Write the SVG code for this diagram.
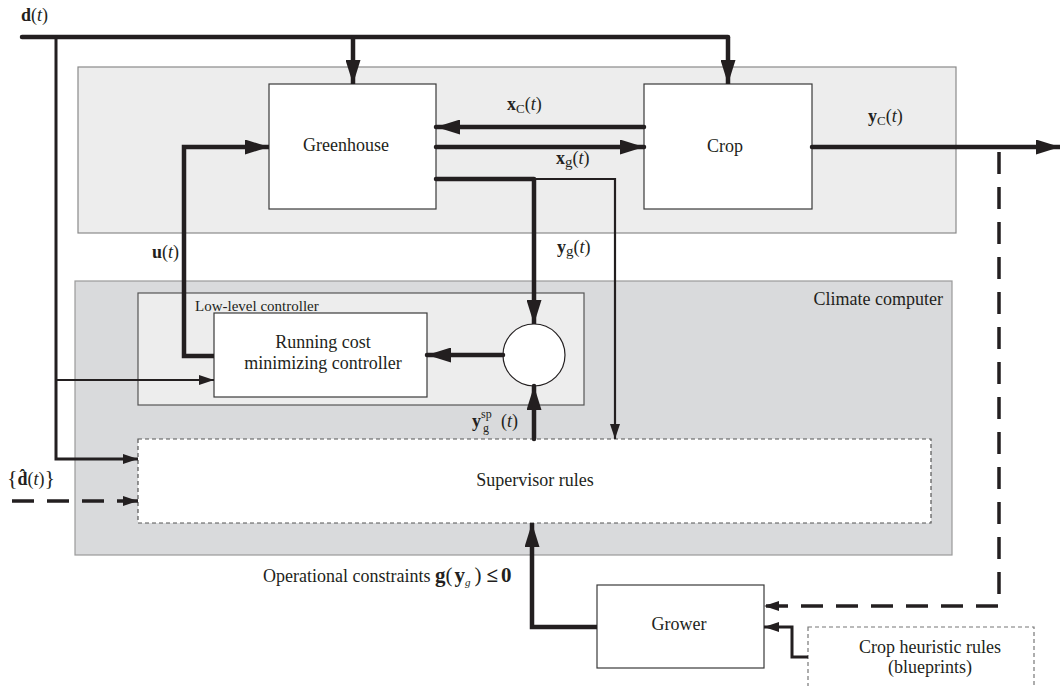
<svg xmlns="http://www.w3.org/2000/svg" width="1060" height="686" viewBox="0 0 1060 686">
<style>
  text { font-family: "Liberation Serif", "Times New Roman", serif; fill: #231f20; }
  .lbl { font-size: 18px; }
  .sm { font-size: 15px; }
  .b { font-weight: bold; }
  .i { font-style: italic; }
  .box { fill: #ffffff; stroke: #3a3a3a; stroke-width: 1.2; }
  .dbox { fill: #ffffff; stroke: #555555; stroke-width: 1.2; stroke-dasharray: 4 3; }
  .thick { fill: none; stroke: #231f20; stroke-width: 4.5; stroke-linejoin: miter; }
  .med { fill: none; stroke: #231f20; stroke-width: 3; }
  .thin { fill: none; stroke: #231f20; stroke-width: 2.2; }
  .dash { fill: none; stroke: #231f20; stroke-width: 3.5; stroke-dasharray: 22 13; }
</style>
<defs>
  <marker id="ahL" markerUnits="userSpaceOnUse" markerWidth="24" markerHeight="15" refX="24" refY="7.5" orient="auto">
    <path d="M0,0 L24,7.5 L0,15 Z" fill="#231f20"/>
  </marker>
  <marker id="ahS" markerUnits="userSpaceOnUse" markerWidth="15" markerHeight="10" refX="15" refY="5" orient="auto">
    <path d="M0,0 L15,5 L0,10 Z" fill="#231f20"/>
  </marker>
</defs>

<!-- containers -->
<g id="greenhouse-system">
  <rect x="78" y="67" width="878" height="166" fill="#ededed" stroke="#8a8a8a" stroke-width="1.2"/>
</g>
<g id="climate-computer">
  <rect x="75" y="281" width="877" height="274" fill="#d9dadc" stroke="#9a9a9a" stroke-width="1.2"/>
  <text class="lbl" x="943" y="305" text-anchor="end">Climate computer</text>
</g>
<g id="low-level-controller">
  <rect x="138" y="293" width="446" height="112" fill="#ededed" stroke="#555555" stroke-width="1.2"/>
  <text class="sm" x="195" y="311">Low-level controller</text>
</g>

<!-- nodes -->
<g id="greenhouse">
  <rect class="box" x="269" y="84" width="167" height="125"/>
  <text class="lbl" x="346" y="151" text-anchor="middle">Greenhouse</text>
</g>
<g id="crop">
  <rect class="box" x="644" y="84" width="168" height="125"/>
  <text class="lbl" x="725" y="152" text-anchor="middle">Crop</text>
</g>
<g id="running-cost-controller">
  <rect class="box" x="214" y="313" width="213" height="84"/>
  <text class="lbl" x="323" y="348" text-anchor="middle">Running cost</text>
  <text class="lbl" x="323" y="369" text-anchor="middle">minimizing controller</text>
</g>
<g id="comparator">
  <circle cx="534" cy="355" r="31" fill="#ffffff" stroke="#231f20" stroke-width="1.2"/>
</g>
<g id="supervisor-rules">
  <rect class="dbox" x="138" y="439" width="793" height="84"/>
  <text class="lbl" x="535" y="486" text-anchor="middle">Supervisor rules</text>
</g>
<g id="grower">
  <rect class="box" x="597" y="585" width="167" height="83"/>
  <text class="lbl" x="679" y="630" text-anchor="middle">Grower</text>
</g>
<g id="crop-heuristic-rules">
  <rect x="808" y="627" width="226" height="70" fill="#ffffff" stroke="#777777" stroke-width="1.2" stroke-dasharray="4 3"/>
  <text class="lbl" x="930" y="653" text-anchor="middle">Crop heuristic rules</text>
  <text class="lbl" x="930" y="673" text-anchor="middle">(blueprints)</text>
</g>

<!-- connectors -->
<g id="connectors">
  <path class="thick" d="M22,37 H728" stroke-linecap="round"/>
  <path class="thick" d="M353,37 V84" marker-end="url(#ahL)"/>
  <path class="thick" d="M728,37 V84" marker-end="url(#ahL)"/>
  <path class="med" d="M56,37 V459 H138" marker-end="url(#ahS)"/>
  <path class="thin" d="M56,380 H214" marker-end="url(#ahS)"/>
  <path class="thick" d="M644,127 H436" stroke-linecap="round" marker-end="url(#ahL)"/>
  <path class="thick" d="M436,147 H644" stroke-linecap="round" marker-end="url(#ahL)"/>
  <path class="thick" d="M436,179 H534" stroke-linecap="round"/>
  <path class="thick" d="M534,179 V324" marker-end="url(#ahL)"/>
  <path class="thin" d="M534,179 H615 V439" marker-end="url(#ahS)"/>
  <path class="thick" d="M503,355 H427" stroke-linecap="round" marker-end="url(#ahL)"/>
  <path class="thick" d="M534,439 V386" stroke-linecap="round" marker-end="url(#ahL)"/>
  <path class="thick" d="M214,356 H184 V147 H269" marker-end="url(#ahL)"/>
  <path class="thick" d="M812,147 H1060" stroke-linecap="round" marker-end="url(#ahL)"/>
  <path class="dash" d="M999,152 V606 H764" marker-end="url(#ahS)"/>
  <path class="dash" d="M12,501 H138" stroke-width="3" marker-end="url(#ahS)"/>
  <path class="thick" d="M597,627 H532 V523" marker-end="url(#ahL)"/>
  <path class="med" d="M808,657 H792 V627 H764" marker-end="url(#ahS)"/>
</g>

<!-- labels -->
<g id="labels">
  <text class="lbl" x="21" y="21"><tspan class="b">d</tspan>(<tspan class="i">t</tspan>)</text>
  <text class="lbl" x="507" y="110"><tspan class="b">x</tspan><tspan font-size="13" dy="3">C</tspan><tspan dy="-3">(</tspan><tspan class="i">t</tspan>)</text>
  <text class="lbl" x="556" y="164"><tspan class="b">x</tspan><tspan font-size="15" dy="3">g</tspan><tspan dy="-3">(</tspan><tspan class="i">t</tspan>)</text>
  <text class="lbl" x="868" y="122"><tspan class="b">y</tspan><tspan font-size="13" dy="3">C</tspan><tspan dy="-3">(</tspan><tspan class="i">t</tspan>)</text>
  <text class="lbl" x="557" y="253"><tspan class="b">y</tspan><tspan font-size="15" dy="3">g</tspan><tspan dy="-3">(</tspan><tspan class="i">t</tspan>)</text>
  <text class="lbl" x="152" y="258"><tspan class="b">u</tspan>(<tspan class="i">t</tspan>)</text>
  <text class="lbl" x="472" y="427"><tspan class="b">y</tspan><tspan font-size="12" dy="-9">sp</tspan><tspan font-size="12" x="483" dy="14">g</tspan><tspan x="501" dy="-5">(</tspan><tspan class="i">t</tspan>)</text>
  <text class="lbl" x="7" y="485"><tspan font-size="22">{</tspan><tspan class="b">d&#770;</tspan>(<tspan class="i">t</tspan>)<tspan font-size="22">}</tspan></text>
  <text class="lbl" x="263" y="582">Operational constraints <tspan class="b" font-size="21">g</tspan><tspan font-size="21">(</tspan><tspan class="b" font-size="21" dx="2">y</tspan><tspan class="i" font-size="11" dy="4">g</tspan><tspan font-size="21" dy="-4" dx="4">)</tspan><tspan class="b" font-size="21" dx="5">≤</tspan><tspan class="b" font-size="21" dx="3">0</tspan></text>
</g>
</svg>
